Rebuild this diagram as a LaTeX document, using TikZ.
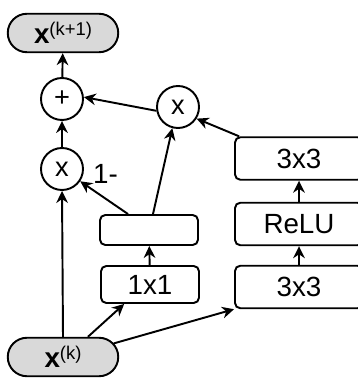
\documentclass[tikz,border=0pt]{standalone}
\usepackage{fontspec}
\setmainfont{Liberation Sans}
\usetikzlibrary{arrows.meta,calc,shapes.misc}

\begin{document}
\begin{tikzpicture}
[->,>={Stealth[length=6.8pt,width=6.6pt,inset=2.2pt]},line width=1.1pt,
font=\fontsize{15.8}{18}\selectfont,
blk/.style={draw,rounded corners=3pt,minimum width=1.96cm,minimum height=0.74cm,inner sep=0pt},
wide/.style={blk,minimum width=2.56cm,minimum height=0.85cm},
op/.style={circle,draw,minimum size=0.84cm,inner sep=0pt,font=\fontsize{15.5}{17}\selectfont},
feat/.style={rounded rectangle,draw,fill=black!15,minimum width=2.21cm,minimum height=0.77cm,inner sep=0pt}]
\path[use as bounding box,clip] (0,0) rectangle (7.16,7.62);
\node (xk) at (1.26,0.48) [feat] {\textbf{x}\raisebox{4.5pt}{\fontsize{10.5}{11}\selectfont(k)}};
\node (xk1) at (1.26,6.96) [feat] {\textbf{x}\raisebox{4.5pt}{\fontsize{10.5}{11}\selectfont(k+1)}};
\node (plus) at (1.24,5.64) [op] {+};
\node (mulL) at (1.24,4.24) [op] {x};
\node (mulM) at (3.56,5.48) [op] {x};
\node (gate) at (2.98,3.02) [blk,minimum height=0.6cm] {};
\node (b11) at (3.0,1.93) [blk] {1x1};
\node (c3a) at (5.98,1.88) [wide] {3x3};
\node (relu) at (5.98,3.14) [wide] {ReLU};
\node (c3b) at (5.98,4.45) [wide] {3x3};

% identity path
\draw (xk.north) -- (mulL.south);
\draw (mulL) -- (plus);
\draw (plus) -- (xk1);

% gate branch
\draw (xk.39) -- (b11.217);
\draw (b11) -- (gate);
\draw ($(gate.north)+(-0.42,0)$) -- (mulL.-34) node [pos=0.75,anchor=south west,inner sep=0pt,yshift=3pt] {1-};
\draw ($(gate.north)+(0.08,0)$) -- (mulM.-105);

% conv branch
\draw (xk.15) -- (c3a.south west);
\draw (c3a) -- (relu);
\draw (relu) -- (c3b);
\draw ($(c3b.north west)+(0.1,0)$) -- (mulM.-32);
\draw (mulM.190) -- (plus.5);

\end{tikzpicture}
\end{document}
